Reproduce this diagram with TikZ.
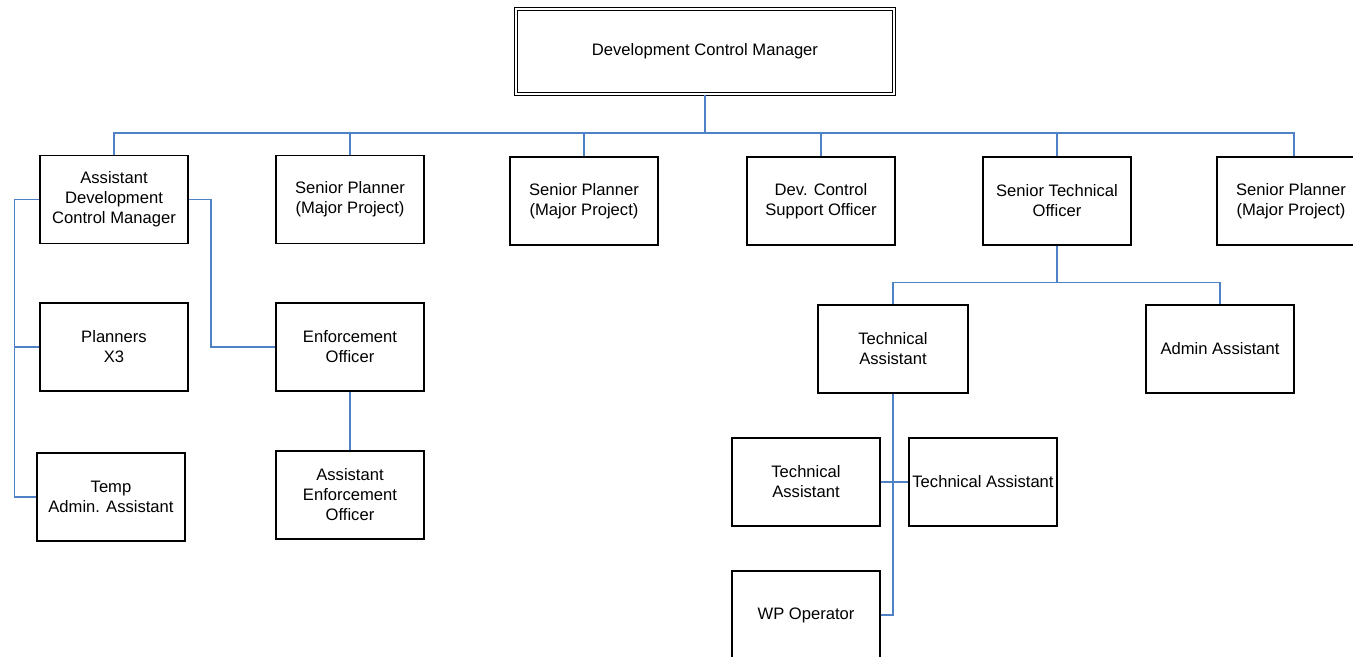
\documentclass[tikz,border=0pt]{standalone}
\usepackage{fontspec}
\setmainfont{Liberation Sans}
\usetikzlibrary{positioning,calc}
\definecolor{linkblue}{RGB}{79,129,199}
\tikzset{
  font=\fontsize{8.3}{10}\selectfont,
  box/.style={
    draw,
    line width=0.75pt,
    align=center,
    minimum width=74pt,
    minimum height=44pt,
    inner sep=1pt
  },
  topbox/.style={
    draw,
    double,
    double distance=1pt,
    line width=0.7pt,
    align=center,
    minimum width=189pt,
    minimum height=42.5pt
  },
  link/.style={draw=linkblue, line width=0.75pt}
}

\begin{document}
\begin{tikzpicture}[x=0.5pt,y=-0.5pt]
\clip (0,0) rectangle (1353,657);
\fill[white] (0,0) rectangle (1353,657);

% Top
\node[topbox] (dcm) at (705,51.5) {Development Control Manager};

% First row
\node[box] (adcm) at (114,199.5) {Assistant\\Development\\Control Manager};
\node[box] (sp1) at (350,199.5) {Senior Planner\\(Major Project)};
\node[box] (sp2) at (584,201) {Senior Planner\\(Major Project)};
\node[box] (dcso) at (821,201) {Dev. Control\\Support Officer};
\node[box] (sto) at (1057,201) {Senior Technical\\Officer};
\node[box] (sp3) at (1291,201) {Senior Planner\\(Major Project)};

% Under the assistant manager
\node[box] (pl) at (114,347) {Planners\\X3};
\node[box] (tmp) at (111,497) {Temp\\Admin. Assistant};
\node[box] (eo) at (350,347) {Enforcement\\Officer};
\node[box] (aeo) at (350,495) {Assistant\\Enforcement\\Officer};

% Under the senior technical officer
\node[box, minimum width=75pt] (ta) at (893,349) {Technical\\Assistant};
\node[box] (adm) at (1220,349) {Admin Assistant};
\node[box] (ta2) at (806,482) {Technical\\Assistant};
\node[box] (ta3) at (983,482) {Technical Assistant};
\node[box] (wp) at (806,615) {WP Operator};

% Edges
\coordinate (bus) at (705,133);
\draw[link] (dcm.south) -- (bus);
\foreach \n in {adcm,sp1,sp2,dcso,sto}
  \draw[link] (bus) -| (\n.north);
\draw[link] (bus) -| ($(sp3.north)+(3,0)$);

\draw[link] (adcm.west) -- ++(-25,0) coordinate (lft) |- (tmp.west);
\draw[link] (pl.west) -- (lft |- pl.west);
\draw[link] (adcm.east) -- ++(22,0) |- (eo.west);
\draw[link] (eo.south) -- (aeo.north);

\draw[link] (sto.south) -- ++(0,37) coordinate (stobus);
\draw[link] (stobus) -| (ta.north);
\draw[link] (stobus) -| (adm.north);
\draw[link] (ta.south) |- (wp.east);
\draw[link] (ta2.east) -- (ta3.west);

\end{tikzpicture}
\end{document}
